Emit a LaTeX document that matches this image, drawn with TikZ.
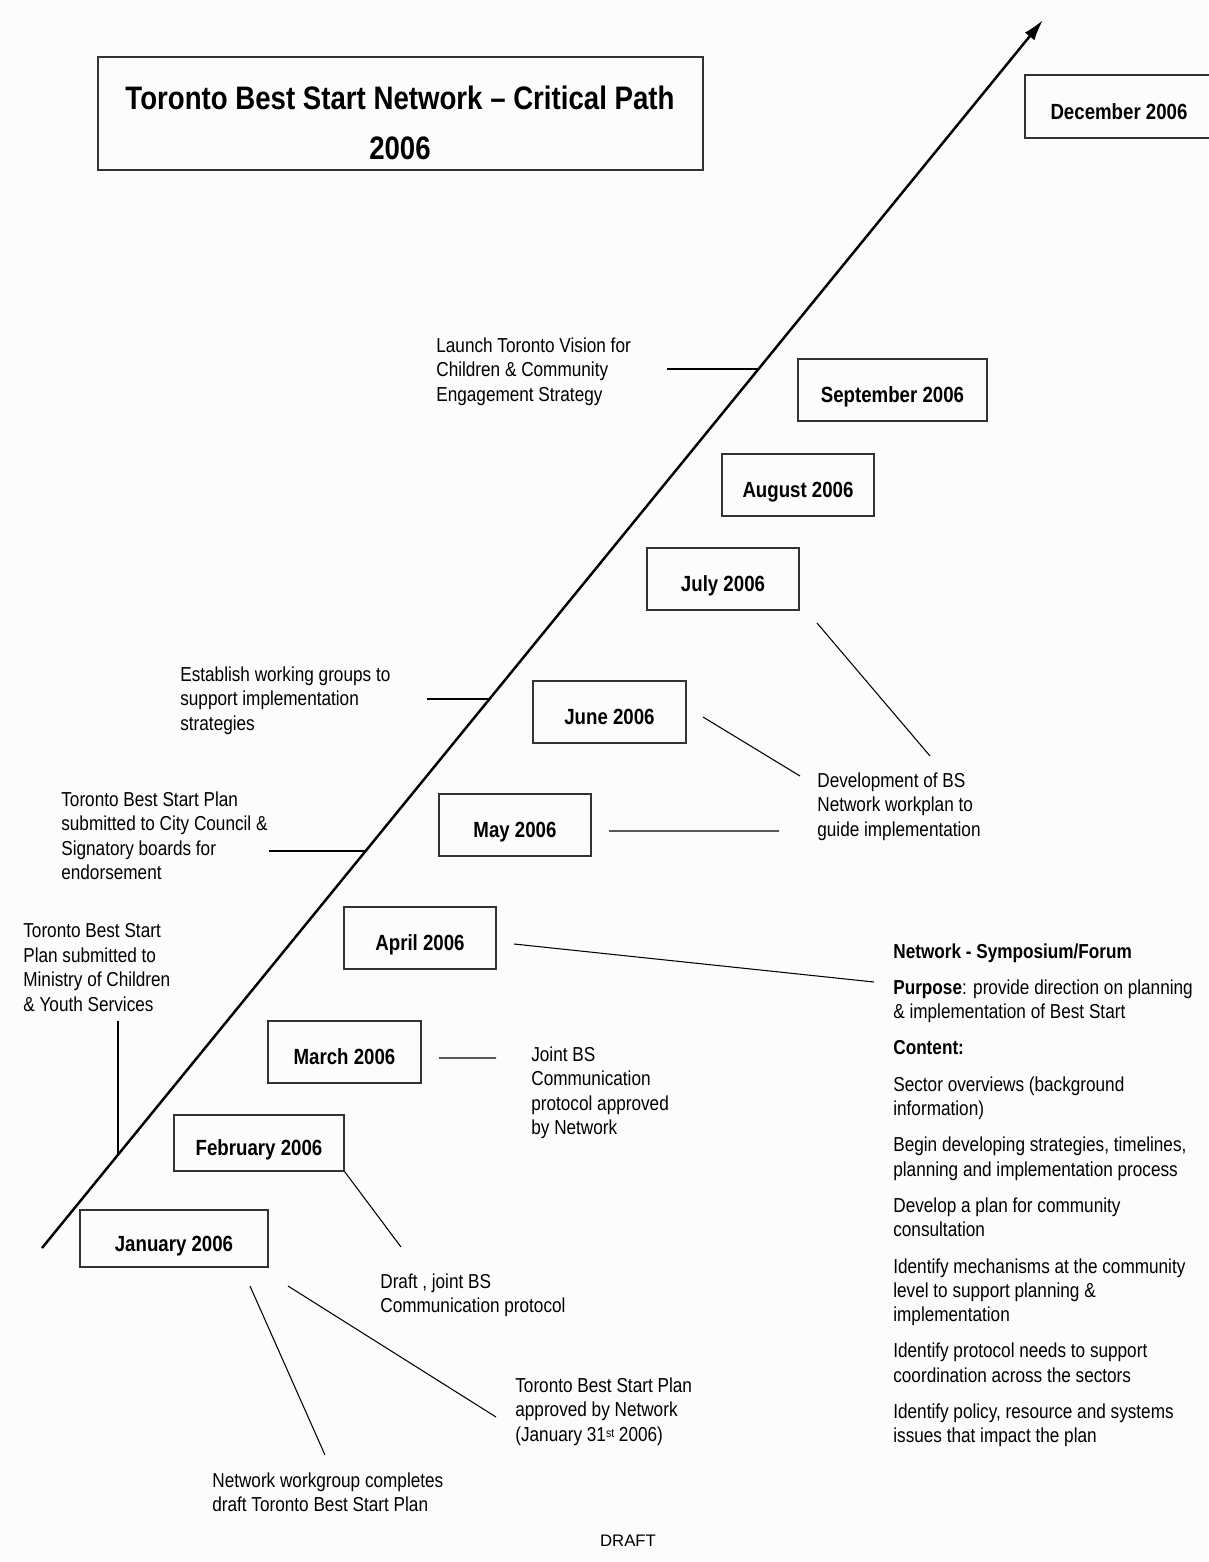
\documentclass[tikz,border=0pt]{standalone}
\usepackage{fontspec}
\setmainfont{Liberation Sans}[FakeStretch=0.85]
\newfontfamily\draftfont{Liberation Sans}
\usetikzlibrary{arrows.meta}
\def\pxu{0.02cm}
\tikzset{month/.style={draw=black!80, line width=0.7pt, inner sep=0pt, minimum height=62*\pxu,
    font=\fontsize{12.5}{15}\selectfont\bfseries, text height=1.45em, text depth=0pt},
  note/.style={anchor=north west, inner sep=0pt, align=left, font=\fontsize{11.5}{14}\selectfont},
  link/.style={line width=0.6pt},
  spine/.style={line width=1.4pt, -{Latex[length=12pt,width=7pt]}}}

\begin{document}
\begin{tikzpicture}[x=\pxu, y=-\pxu]
\useasboundingbox[fill={rgb,255:red,252;green,252;blue,252}] (0,0) rectangle (1208,1562);
% title
\node (titlebox) at (400.5,113.5) [draw=black!80, line width=0.7pt, minimum width=605*\pxu, minimum height=113*\pxu] {};
\node (title) at (400,123) [align=center, font=\fontsize{18.5}{28.5}\selectfont\bfseries]
  {Toronto Best Start Network -- Critical Path\\2006};
% the path
\coordinate (start) at (42,1248);
\coordinate (tip) at (1043,20);
\draw[spine] (start) -- (tip);
% months
\node (dec) at (1119,106.5) [month, minimum width=188*\pxu, minimum height=63*\pxu] {December 2006};
\node (sep) at (892.5,390) [month, minimum width=189*\pxu] {September 2006};
\node (aug) at (798,485) [month, minimum width=152*\pxu] {August 2006};
\node (jul) at (723,579) [month, minimum width=152*\pxu] {July 2006};
\node (jun) at (609.5,712) [month, minimum width=153*\pxu] {June 2006};
\node (may) at (515,825) [month, minimum width=152*\pxu] {May 2006};
\node (apr) at (420,938) [month, minimum width=152*\pxu] {April 2006};
\node (mar) at (344.5,1052) [month, minimum width=153*\pxu] {March 2006};
\node (feb) at (259,1143) [month, minimum width=170*\pxu, minimum height=56*\pxu] {February 2006};
\node (jan) at (174,1238.5) [month, minimum width=188*\pxu, minimum height=57*\pxu] {January 2006};
% notes
\node (launch) at (436,337) [note] {Launch Toronto Vision for\\Children \& Community\\Engagement Strategy};
\node (groups) at (180,666) [note] {Establish working groups to\\support implementation\\strategies};
\node (council) at (61,791) [note] {Toronto Best Start Plan\\submitted to City Council \&\\Signatory boards for\\endorsement};
\node (ministry) at (23,923) [note] {Toronto Best Start\\Plan submitted to\\Ministry of Children\\\& Youth Services};
\node (workplan) at (817,772) [note] {Development of BS\\Network workplan to\\guide implementation};
\node (joint) at (531,1046) [note] {Joint BS\\Communication\\protocol approved\\by Network};
\node (draftbs) at (380,1273) [note] {Draft , joint BS\\Communication protocol};
\node (approved) at (515,1377) [note] {Toronto Best Start Plan\\approved by Network\\(January 31{\scriptsize\raisebox{0.5ex}{st}} 2006)};
\node (workgroup) at (212,1472) [note] {Network workgroup completes\\draft Toronto Best Start Plan};
\node (forum) at (893,943) [note, font=\fontsize{11.5}{13.85}\selectfont] {\textbf{Network - Symposium/Forum}\\[6.8pt]
  \textbf{Purpose}: provide direction on planning\\\& implementation of Best Start\\[6.8pt]
  \textbf{Content:}\\[6.8pt]
  Sector overviews (background\\information)\\[6.8pt]
  Begin developing strategies, timelines,\\planning and implementation process\\[6.8pt]
  Develop a plan for community\\consultation\\[6.8pt]
  Identify mechanisms at the community\\level to support planning \&\\implementation\\[6.8pt]
  Identify protocol needs to support\\coordination across the sectors\\[6.8pt]
  Identify policy, resource and systems\\issues that impact the plan};
\node (draft) at (628,1541) [font=\draftfont\fontsize{9.5}{11}\selectfont] {DRAFT};
% connector ends
\coordinate (launchA) at (667,369);   \coordinate (launchB) at (758,369);
\coordinate (groupsA) at (427,699);   \coordinate (groupsB) at (489,699);
\coordinate (councilA) at (269,851);  \coordinate (councilB) at (365,851);
\coordinate (ministryA) at (118,1021); \coordinate (ministryB) at (118,1155);
\coordinate (junA) at (703,717);  \coordinate (junB) at (800,776);
\coordinate (julA) at (817,623);  \coordinate (julB) at (930,756);
\coordinate (mayA) at (609,831);  \coordinate (mayB) at (779,831);
\coordinate (aprA) at (514,944);  \coordinate (aprB) at (874,982);
\coordinate (marA) at (439,1058); \coordinate (marB) at (496,1058);
\coordinate (febB) at (401,1247);
\coordinate (janA) at (250,1286); \coordinate (janB) at (325,1455);
\coordinate (janC) at (288,1286); \coordinate (janD) at (496,1417);
\draw[link] (launchA) -- (launchB) (groupsA) -- (groupsB) (councilA) -- (councilB)
  (ministryA) -- (ministryB);
\draw[link] (junA) -- (junB) (julA) -- (julB) (mayA) -- (mayB) (aprA) -- (aprB)
  (marA) -- (marB) (feb.south east) -- (febB) (janA) -- (janB) (janC) -- (janD);
\end{tikzpicture}
\end{document}
